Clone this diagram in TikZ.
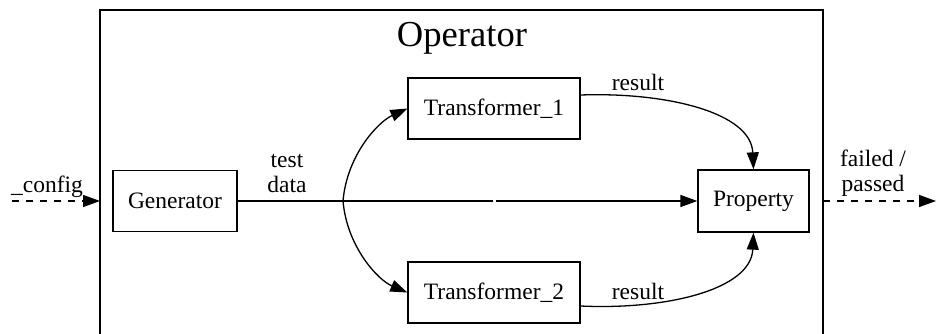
\documentclass[tikz,border=0pt]{standalone}
\usepackage{fontspec}
\setmainfont{Liberation Serif}
\usetikzlibrary{arrows.meta,calc}
\begin{document}
\begin{tikzpicture}[x=1pt,y=-1pt,
  line width=1.3pt,
  every node/.style={font=\fontsize{23.5}{25}\selectfont},
  box/.style={draw,rectangle,inner sep=0pt,line width=1.3pt},
  lbl/.style={inner sep=0pt,align=center},
  flow/.style={-{Triangle[length=17pt,width=12pt]}},
  extflow/.style={flow,dash pattern=on 7pt off 7pt}]
  \useasboundingbox (0,0) rectangle (937,334);

  % operator cluster (open at the bottom edge)
  \draw (100,336) -- (100,10) -- (823,10) -- (823,336);
  \node[lbl,font=\fontsize{36.6}{38}\selectfont] (optitle) at (462,38) {Operator};

  % processing blocks
  \node[box,minimum width=124pt,minimum height=61pt] (gen)  at (175,201) {Generator};
  \node[box,minimum width=172pt,minimum height=61pt] (t1)   at (494,108.5) {Transformer\_1};
  \node[box,minimum width=172pt,minimum height=61pt] (t2)   at (494,292.5) {Transformer\_2};
  \node[box,minimum width=111pt,minimum height=62pt] (prop) at (753.5,201) {Property};

  % junction points
  \coordinate (split) at (343,201);
  \coordinate (gapL) at (493,201);
  \coordinate (gapR) at (496,201);
  \coordinate (cfgstart) at (12,201);
  \coordinate (opL) at (100,201);
  \coordinate (opR) at (823,201);
  \coordinate (outend) at (936,201);

  % external input and output
  \draw[extflow] (cfgstart) -- (opL);
  \draw[extflow] (opR) -- (outend);
  \node[lbl,anchor=base] (cfglbl) at (47,192) {\_config};
  \node[lbl] (outlbl) at (873,173) {failed /\\passed};

  % test data distribution
  \draw (gen.east) -- (split);
  \draw (split) -- (gapL);
  \draw[flow] (gapR) -- (prop.west);
  \draw[flow] (split) .. controls (347,155) and (378,122) .. (t1.west);
  \draw[flow] (split) .. controls (347,247) and (378,280) .. (t2.west);
  \node[lbl] (tdlbl) at (287,173) {test\\data};

  % results into the property check
  \draw[flow] ($(t1.east)+(0,-13.5)$) .. controls (665,92) and (751,112) .. (prop.north);
  \draw[flow] ($(t2.east)+(0,13.5)$) .. controls (665,310) and (751,290) .. (prop.south);
  \node[lbl] (r1lbl) at (638,82) {result};
  \node[lbl] (r2lbl) at (638,291) {result};
\end{tikzpicture}
\end{document}
